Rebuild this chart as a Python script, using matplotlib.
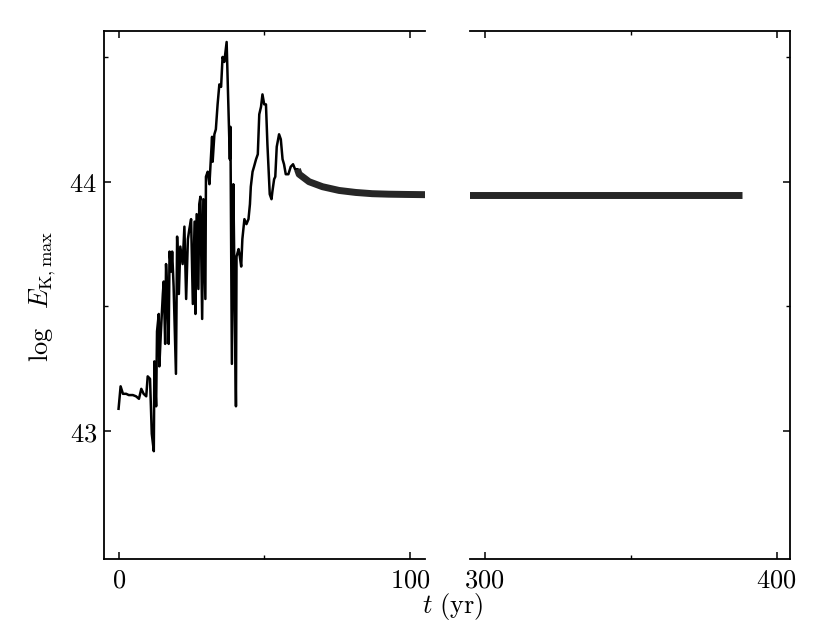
import matplotlib
matplotlib.use("Agg")
import matplotlib.pyplot as plt
from matplotlib.ticker import FixedLocator

plt.rcParams["mathtext.fontset"] = "cm"
plt.rcParams["font.family"] = "serif"

# early, turbulent phase (thin line)
t_early = [0.0, 0.7, 1.5, 2.6, 3.5, 4.9, 6.0, 7.0, 7.8, 8.6, 9.5, 10.0, 10.8,
           11.4, 12.1, 12.3, 12.9, 13.2, 13.8, 14.0, 14.5, 15.2, 15.5, 16.0,
           16.3, 16.7, 17.2, 17.5, 18.1, 18.4, 18.9, 19.7, 20.1, 20.7, 21.2,
           22.0, 22.6, 23.2, 23.8, 24.3, 24.9, 25.5, 26.1, 26.4, 26.8, 27.4,
           27.7, 28.1, 28.7, 29.1, 29.8, 30.0, 30.6, 31.2, 32.1, 32.3, 32.9,
           33.4, 34.0, 34.6, 35.2, 35.7, 36.3, 37.1, 37.8, 38.2, 38.4, 38.9,
           39.4, 39.8, 40.3, 40.5, 41.2, 41.5, 42.1, 42.5, 43.2, 43.9, 44.6,
           45.1, 45.4, 46.0, 46.5, 47.2, 47.8, 48.3, 48.9, 49.4, 50.0, 50.6,
           51.1, 51.9, 52.5, 52.8, 53.4, 53.8, 54.3, 55.1, 55.7, 56.3, 56.8,
           57.4, 58.3, 59.1, 59.9, 60.6, 61.4]
e_early = [43.09, 43.18, 43.15, 43.15, 43.145, 43.145, 43.14, 43.13, 43.17,
           43.15, 43.14, 43.22, 43.21, 42.99, 42.92, 43.28, 43.10, 43.40,
           43.47, 43.26, 43.39, 43.55, 43.60, 43.35, 43.67, 43.56, 43.35,
           43.72, 43.64, 43.72, 43.58, 43.23, 43.78, 43.55, 43.74, 43.67,
           43.82, 43.53, 43.77, 43.81, 43.85, 43.51, 43.84, 43.47, 43.87,
           43.57, 43.91, 43.94, 43.45, 43.93, 43.53, 44.02, 44.04, 43.99,
           44.18, 44.08, 44.19, 44.21, 44.31, 44.39, 44.38, 44.50, 44.48,
           44.56, 44.26, 44.09, 44.22, 43.27, 43.99, 43.60, 43.10, 43.70,
           43.73, 43.71, 43.66, 43.77, 43.85, 43.83, 43.85, 43.91, 43.98,
           44.04, 44.06, 44.09, 44.11, 44.27, 44.30, 44.35, 44.31, 44.31,
           44.15, 43.95, 43.93, 43.96, 44.01, 44.02, 44.14, 44.19, 44.17,
           44.09, 44.07, 44.03, 44.03, 44.06, 44.07, 44.05, 44.05]

# settling phase: fast oscillation drawn as a thick band
t_settle = [61.4, 62.0, 65.4, 70.0, 75.7, 81.4, 87.1, 92.8, 98.5, 106.0]
e_settle = [44.05, 44.03, 44.00, 43.98, 43.965, 43.957, 43.952, 43.950,
            43.949, 43.948]

t_late = [290.0, 320.0, 350.0, 388.0]
e_late = [43.947, 43.947, 43.947, 43.947]

fig = plt.figure(figsize=(8.3, 6.23), dpi=100)
W, H = 830.0, 623.0
bottom = 1 - 559 / H
height = (559 - 31) / H
ax1 = fig.add_axes([104 / W, bottom, 321 / W, height])
ax2 = fig.add_axes([470 / W, bottom, 320 / W, height])

for ax in (ax1, ax2):
    ax.plot(t_early, e_early, color="black", lw=1.8)
    ax.plot(t_settle, e_settle, color="#262626", lw=5.0, solid_capstyle="butt")
    ax.plot(t_late, e_late, color="#262626", lw=5.0, solid_capstyle="butt")
    ax.set_ylim(42.488, 44.604)
    for s in ax.spines.values():
        s.set_linewidth(1.3)
    ax.tick_params(which="major", direction="in", length=5, width=1.1,
                   labelsize=19, top=True)
    ax.tick_params(which="minor", direction="in", length=3, width=1.0, top=True)
    ax.yaxis.set_minor_locator(FixedLocator([43.5, 44.5]))
    ax.tick_params(axis="x", pad=6)

ax1.set_xlim(-5, 105.2)
ax2.set_xlim(295, 404.6)

ax1.spines["right"].set_visible(False)
ax2.spines["left"].set_visible(False)

ax1.set_xticks([0, 100])
ax1.set_xticklabels(["$0$", "$100$"])
ax1.xaxis.set_minor_locator(FixedLocator([50]))
ax2.set_xticks([300, 400])
ax2.set_xticklabels(["$300$", "$400$"])
ax2.xaxis.set_minor_locator(FixedLocator([350]))

ax1.set_yticks([43, 44])
ax1.set_yticklabels(["$43$", "$44$"])
ax1.tick_params(axis="y", which="both", left=True, right=False, pad=5)
ax2.set_yticks([43, 44])
ax2.tick_params(axis="y", which="both", left=False, right=True,
                labelleft=False, labelright=False)

fig.text(43 / W, 1 - 296 / H, r"$\log\ \ E_{\rm K,max}$", rotation=90,
         ha="center", va="center", fontsize=19)
fig.text(453 / W, 1 - 606 / H, r"$t\ \rm (yr)$", ha="center", va="center",
         fontsize=19)

fig.savefig("out.png", dpi=100)
